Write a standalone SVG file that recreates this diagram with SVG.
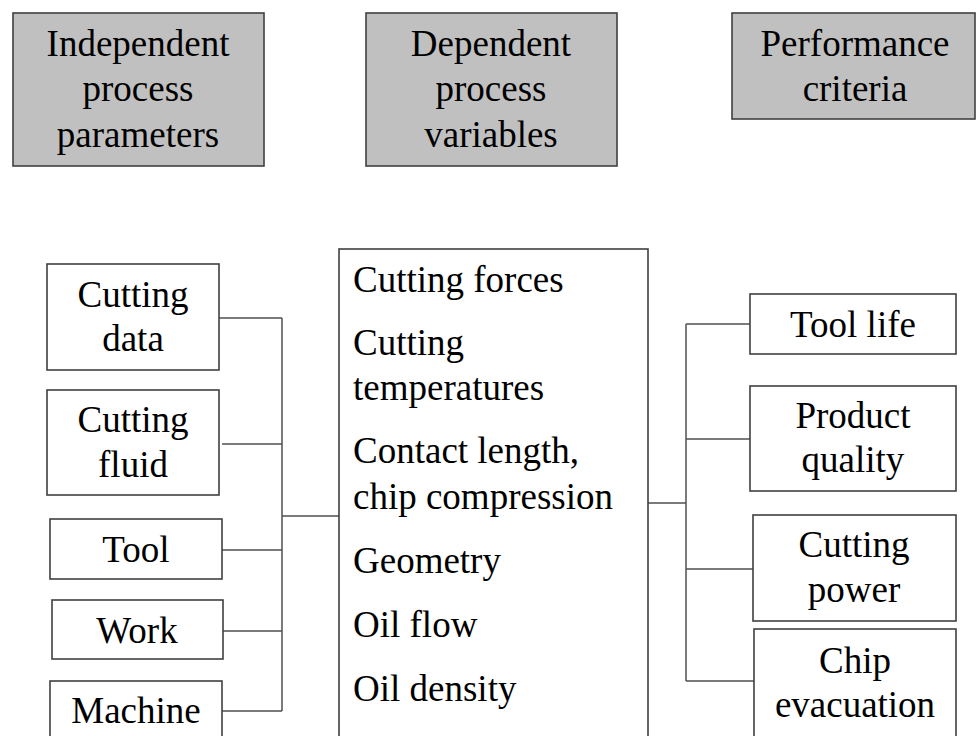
<svg xmlns="http://www.w3.org/2000/svg" width="976" height="736" viewBox="0 0 976 736">
  <style>
    .hdr { fill: #c0c0c0; stroke: #404040; stroke-width: 1.6; }
    .box { fill: #ffffff; stroke: #404040; stroke-width: 1.6; }
    .lbl { font-family: "Liberation Serif", "Times New Roman", serif; font-size: 37px; fill: #000000; }
    .mid { text-anchor: middle; }
    .wire { fill: none; stroke: #505050; stroke-width: 1.5; }
  </style>
  <rect width="976" height="736" fill="#ffffff"/>

  <!-- column headers -->
  <g id="hdr-independent">
    <rect class="hdr" x="13" y="13" width="251" height="153"/>
    <text class="lbl mid" x="138" y="56">Independent</text>
    <text class="lbl mid" x="138" y="101">process</text>
    <text class="lbl mid" x="138" y="147">parameters</text>
  </g>
  <g id="hdr-dependent">
    <rect class="hdr" x="366" y="13" width="251" height="153"/>
    <text class="lbl mid" x="491" y="56">Dependent</text>
    <text class="lbl mid" x="491" y="101">process</text>
    <text class="lbl mid" x="491" y="147">variables</text>
  </g>
  <g id="hdr-performance">
    <rect class="hdr" x="732" y="13" width="243" height="106"/>
    <text class="lbl mid" x="855" y="56">Performance</text>
    <text class="lbl mid" x="855" y="101">criteria</text>
  </g>

  <!-- connectors -->
  <g id="connectors">
    <path class="wire" d="M219,318 H282 M222,444 H282 M222,550 H282 M223,631 H282 M222,711 H282 M282,318 V711 M282,516 H339"/>
    <path class="wire" d="M648,503 H686 M686,324 V681 M686,324 H750 M686,439 H750 M686,569 H753 M686,681 H754"/>
  </g>

  <!-- inputs -->
  <g id="cutting-data">
    <rect class="box" x="47" y="264" width="172" height="106"/>
    <text class="lbl mid" x="133" y="307">Cutting</text>
    <text class="lbl mid" x="133" y="351">data</text>
  </g>
  <g id="cutting-fluid">
    <rect class="box" x="47" y="390" width="172" height="105"/>
    <text class="lbl mid" x="133" y="432">Cutting</text>
    <text class="lbl mid" x="133" y="477">fluid</text>
  </g>
  <g id="tool">
    <rect class="box" x="50" y="519" width="172" height="60"/>
    <text class="lbl mid" x="136" y="562">Tool</text>
  </g>
  <g id="work">
    <rect class="box" x="52" y="600" width="171" height="59"/>
    <text class="lbl mid" x="137" y="643">Work</text>
  </g>
  <g id="machine">
    <rect class="box" x="50" y="681" width="172" height="70"/>
    <text class="lbl mid" x="136" y="723">Machine</text>
  </g>

  <!-- dependent variables -->
  <g id="variables">
    <rect class="box" x="339" y="249" width="309" height="500"/>
    <text class="lbl" x="353" y="292">Cutting forces</text>
    <text class="lbl" x="353" y="355">Cutting</text>
    <text class="lbl" x="353" y="400">temperatures</text>
    <text class="lbl" x="353" y="463">Contact length,</text>
    <text class="lbl" x="353" y="509">chip compression</text>
    <text class="lbl" x="353" y="573">Geometry</text>
    <text class="lbl" x="353" y="637">Oil flow</text>
    <text class="lbl" x="353" y="701">Oil density</text>
  </g>

  <!-- outputs -->
  <g id="tool-life">
    <rect class="box" x="750" y="294" width="206" height="60"/>
    <text class="lbl mid" x="853" y="337">Tool life</text>
  </g>
  <g id="product-quality">
    <rect class="box" x="750" y="386" width="206" height="105"/>
    <text class="lbl mid" x="853" y="428">Product</text>
    <text class="lbl mid" x="853" y="472">quality</text>
  </g>
  <g id="cutting-power">
    <rect class="box" x="753" y="515" width="203" height="106"/>
    <text class="lbl mid" x="854" y="557">Cutting</text>
    <text class="lbl mid" x="854" y="602">power</text>
  </g>
  <g id="chip-evacuation">
    <rect class="box" x="754" y="629" width="202" height="120"/>
    <text class="lbl mid" x="855" y="673">Chip</text>
    <text class="lbl mid" x="855" y="717">evacuation</text>
  </g>
</svg>
